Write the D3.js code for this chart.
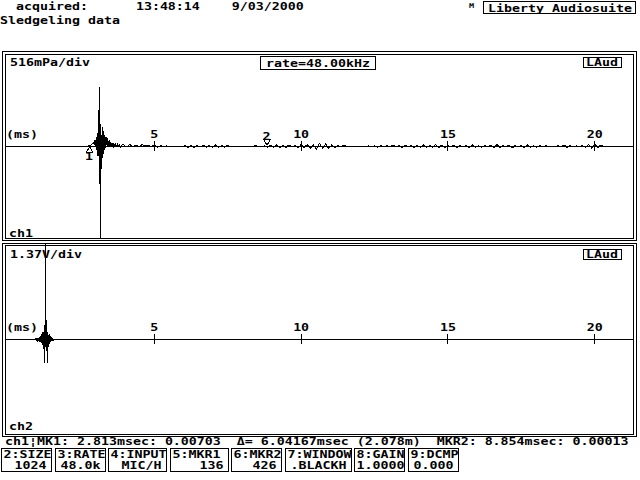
<!DOCTYPE html>
<html>
<head>
<meta charset="utf-8">
<script src="https://cdn.jsdelivr.net/npm/d3@7"></script>
<style>
body { margin: 0; background: #fff; }
svg { display: block; }
text {
    font-family: "DejaVu Sans Mono", "Liberation Mono", monospace;
    font-weight: bold;
    font-size: 10px;
    fill: #000;
    white-space: pre;
}
</style>
</head>
<body>
<div id="container"></div>
<script>
// header texts
const headerLine = "  acquired:      13:48:14    9/03/2000";
const titleLine = "Sledgeling data";
const brandMark = "M";
const brandText = "Liberty Audiosuite";
const rateText = "rate=48.00kHz";
const badgeText = "LAud";
const statusLine = "ch1\u00a6MK1: 2.813msec: 0.00703  \u0394= 6.04167msec (2.078m)  MKR2: 8.854msec: 0.00013";

// acquisition
const rateKHz = 48.0;
const sizeSamples = 1024;
const timeTicks = [5, 10, 15, 20];
const divTicks = [-2, -1, 1, 2];
const ch1PerDiv = 516;   // mPa/div
const ch2PerDiv = 1370;  // mV/div
const ch1Unit = "516mPa/div";
const ch2Unit = "1.37V/div";

// ch1 (mPa): sample index / value around the impulse
const ch1PulseIdx = [0, 128, 132, 135, 137, 139, 140, 141, 142, 143, 144, 145, 146, 147, 148, 149,
    150, 151, 152, 153, 154, 155, 156, 157, 158, 159, 160, 161, 162, 163, 164, 165, 166, 167,
    168, 169, 170, 171, 173, 174, 176, 177, 179, 180, 182, 183, 185, 187];
const ch1PulseVal = [0, 0, 9, 17, 34, 52, 43, 69, 26, 103, 0, 155, -52, 240, -170, 620,
    -650, 1030, -1700, 200, -380, 330, -200, 260, -60, 200, -20, 160, 30, 140, 17, 90, 0, 110,
    9, 70, -9, 60, 0, 50, 0, 40, -9, 43, 0, 34, -9, 26];

// ch1 (mPa): background ripple, every 5th sample from index 190
const ch1TailStart = 190;
const ch1TailStep = 5;
const ch1Tail = [
    26, -9, 34, 0, 26, -9, 34, 9, 26, -9,
    34, -17, 17, 0, 9, 0, 0, 9, 0, -9,
    17, -17, 26, -17, 17, -9, 26, -17, 17, -9,
    26, -17, 17, -9, 26, -9, 9, 0, 9, 0,
    0, 9, 0, 17, 0, 0, 9, -9, 17, -9,
    26, -17, 17, -17, 26, -9, 17, -26, 34, -17,
    34, -34, 26, -43, 51, -26, 43, -34, 26, -17,
    17, -9, 26, -9, 9, 0, 0, 9, 0, 0,
    9, 0, 9, -9, 17, -9, 17, -9, 26, -9,
    17, -17, 26, -9, 17, -17, 17, -9, 26, -17,
    17, -9, 34, -17, 26, -26, 17, -9, 26, -17,
    17, -9, 17, -17, 26, -9, 9, -9, 17, -9,
    26, -17, 34, -17, 17, -9, 26, -26, 17, -9,
    17, -17, 26, -9, 9, -9, 17, -9, 17, 0,
    9, -9, 17, -9, 26, -17, 17, -9, 9, 0,
    17, -17, 34, -26, 43, -17, 26, -9, 9, 0,
    9, 0, 0, 9, 0, 0, 0];

// ch2 (mV): sample index / value
const ch2PulseIdx = [0, 44, 46, 47, 48, 49, 50, 51, 52, 53, 54, 55, 56, 57, 58, 59, 60, 61, 62,
    63, 64, 65, 66, 67, 68, 69, 70, 71, 72, 73, 74, 75, 76, 77, 78, 79];
const ch2PulseVal = [0, 0, 45, -45, 45, -45, 68, -68, 90, -110, 135, -160, 225, -270, 360, -450,
    585, -1080, 4300, -540, 900, -1080, 360, -320, 225, -180, 135, -90, 90, -45, 45, -20,
    20, 0, 0, 0];

// markers (sample index)
const markerIdx = [135, 425];
const markerNames = ["1", "2"];

// softkeys
const keyNames = ["2:SIZE", "3:RATE", "4:INPUT", "5:MKR1", "6:MKR2", "7:WINDOW", "8:GAIN", "9:DCMP"];
const keyValues = ["1024", "48.0k", "MIC/H", "136", "426", ".BLACKH", "1.0000", "0.000"];
const keyCells = [6, 6, 7, 7, 6, 8, 6, 6];

const cw = 8;             // character cell width
const sx = cw / 6.02;     // stretch mono glyphs to the 8px cell

const svg = d3.select("#container")
    .append("svg")
    .attr("width", 640)
    .attr("height", 480)
    .style("shape-rendering", "crispEdges");

function label(g, x, y, str, anchor, size) {
    const t = g.append("text")
        .attr("transform", "translate(" + x + "," + y + ") scale(" + sx + ",1)")
        .attr("text-anchor", anchor || "start")
        .text(str);
    if (size) t.style("font-size", size + "px");
    return t;
}

function box(g, x, y, w, h) {
    return g.append("rect")
        .attr("x", x).attr("y", y)
        .attr("width", w).attr("height", h)
        .attr("fill", "none")
        .attr("stroke", "#000");
}

// header
label(svg, 0, 10, headerLine);
label(svg, 0, 24, titleLine);
label(svg, 469, 8, brandMark, "start", 6.5);
box(svg, 483.5, 1.5, 152, 12);
label(svg, 488, 11.5, brandText);

const x = d3.scaleLinear()
    .domain([0, sizeSamples / rateKHz])
    .range([7, 633.4]);

const ch1Series = ch1PulseIdx.map(function(n, i) { return [n, ch1PulseVal[i]]; })
    .concat(ch1Tail.map(function(v, i) { return [ch1TailStart + i * ch1TailStep, v]; }))
    .concat([[sizeSamples - 1, 0]]);

const ch2Series = ch2PulseIdx.map(function(n, i) { return [n, ch2PulseVal[i]]; })
    .concat([[sizeSamples - 1, 0]]);

const panels = [
    { id: "ch1", series: ch1Series, perDiv: ch1PerDiv, unit: ch1Unit,
      outer: [51.5, 240.5], inner: [54.5, 238.5], yRange: [236, 56],
      clip: [55, 238], unitY: 66, chY: 237, badgeY: 57.5, markers: true },
    { id: "ch2", series: ch2Series, perDiv: ch2PerDiv, unit: ch2Unit,
      outer: [243.5, 436.5], inner: [245.5, 434.5], yRange: [430, 248],
      clip: [243, 434], unitY: 258, chY: 429.5, badgeY: 249.5, markers: false }
];

panels.forEach(function(p) {
    const g = svg.append("g");

    const y = d3.scaleLinear()
        .domain([-3 * p.perDiv, 3 * p.perDiv])
        .range(p.yRange);
    const y0 = y(0);

    box(g, 2.5, p.outer[0], 634, p.outer[1] - p.outer[0]);
    box(g, 5.5, p.inner[0], 628, p.inner[1] - p.inner[0]);

    // division ticks on the left edge
    g.append("g")
        .attr("transform", "translate(5,0)")
        .call(d3.axisRight(y).tickValues(divTicks).tickSize(7).tickFormat(""))
        .call(function(a) { a.select(".domain").remove(); });

    // zero line
    g.append("line")
        .attr("x1", 5.5).attr("x2", 633.5)
        .attr("y1", y0 + 0.5).attr("y2", y0 + 0.5)
        .attr("stroke", "#000");

    const top = g.append("g")
        .attr("transform", "translate(0," + y0 + ")")
        .call(d3.axisTop(x).tickValues(timeTicks).tickSize(5).tickPadding(3))
        .call(function(a) { a.select(".domain").remove(); });
    top.selectAll("text").attr("transform", "scale(" + sx + ",1)");

    g.append("g")
        .attr("transform", "translate(0," + y0 + ")")
        .call(d3.axisBottom(x).tickValues(timeTicks).tickSize(5).tickFormat(""))
        .call(function(a) { a.select(".domain").remove(); });

    label(g, 6, y0 - 8, "(ms)");

    svg.append("clipPath")
        .attr("id", "clip-" + p.id)
        .append("rect")
        .attr("x", 5).attr("y", p.clip[0])
        .attr("width", 629).attr("height", p.clip[1] - p.clip[0]);

    const line = d3.line()
        .x(function(d) { return x(d[0] / rateKHz); })
        .y(function(d) { return y(d[1]); });

    g.append("path")
        .datum(p.series)
        .attr("clip-path", "url(#clip-" + p.id + ")")
        .attr("transform", "translate(0.5,0.5)")
        .attr("fill", "none")
        .attr("stroke", "#000")
        .attr("stroke-width", 1)
        .attr("d", line);

    label(g, 10, p.unitY, p.unit);
    label(g, 9, p.chY, p.id);

    box(g, 583.5, p.badgeY, 38, 10);
    label(g, 586, p.badgeY + 8.5, badgeText);

    if (p.markers) {
        box(g, 260.5, 56.5, 115, 13);
        label(g, 266, 66.5, rateText);

        const tri = d3.symbol().type(d3.symbolTriangle).size(18);
        markerIdx.forEach(function(n, i) {
            const mx = x(n / rateKHz);
            if (i === 0) {
                g.append("path")
                    .attr("d", tri)
                    .attr("transform", "translate(" + mx + "," + (y0 + 4.5) + ")")
                    .attr("fill", "#fff")
                    .attr("stroke", "#000");
                label(g, mx - 0.5, y0 + 13.5, markerNames[i], "middle");
            } else {
                g.append("path")
                    .attr("d", tri)
                    .attr("transform", "translate(" + mx + "," + (y0 - 4.5) + ") rotate(180)")
                    .attr("fill", "#fff")
                    .attr("stroke", "#000");
                label(g, mx - 0.5, y0 - 6.5, markerNames[i], "middle");
            }
        });
    }
});

// status line
label(svg, 5, 445, statusLine);

// softkeys
let kx = 1;
keyNames.forEach(function(k, i) {
    const w = keyCells[i] * cw + 2;
    const bx = Math.round(kx) + 0.5;
    box(svg, bx, 448.5, w, 23);
    label(svg, bx + 2, 458, k);
    const right = Math.max(bx + w - 5, bx + 2 + keyValues[i].length * cw);
    label(svg, right, 469, keyValues[i], "end");
    kx += w + 3.5;
});
</script>
</body>
</html>
